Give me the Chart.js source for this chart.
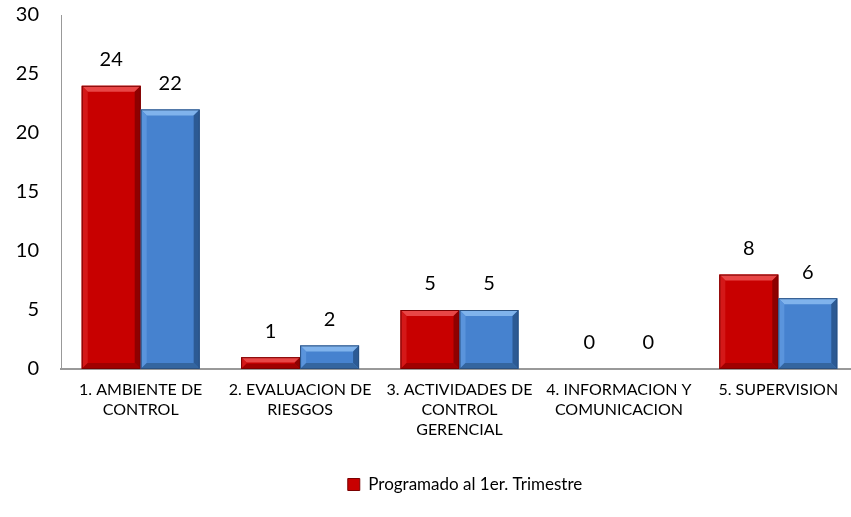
<!DOCTYPE html>
<html>
<head>
<meta charset="utf-8">
<script src="https://cdn.jsdelivr.net/npm/chart.js@4/dist/chart.umd.min.js"></script>
<style>
html,body{margin:0;padding:0;background:#fff;overflow:hidden;}
#wrap{width:930px;height:517px;position:relative;}
</style>
</head>
<body>
<div id="wrap"><canvas id="c"></canvas></div>
<script>
const categories = [
  ["1. AMBIENTE DE","CONTROL"],
  ["2. EVALUACION DE","RIESGOS"],
  ["3. ACTIVIDADES DE","CONTROL","GERENCIAL"],
  ["4. INFORMACION Y","COMUNICACION"],
  ["5. SUPERVISION"]
];
const programado = [24, 1, 5, 0, 8];
const ejecutado = [22, 2, 5, 0, 6];
const seriesNames = ["Programado al 1er. Trimestre", "Ejecutado al 1er. Trimestre"];
const yTicks = [0, 5, 10, 15, 20, 25, 30];

const FONT = "Lato, 'Open Sans', sans-serif";

const palettes = [
  {main:'#C80000', top:'#E84646', left:'#D41818', right:'#8E0000', bottom:'#A00000', edge:'#7a0000'},
  {main:'#4682CF', top:'#80B3EC', left:'#5A94DC', right:'#2C5A94', bottom:'#34659F', edge:'#2a5080'}
];

const bevelPlugin = {
  id:'bevel',
  afterDatasetsDraw(chart){
    const ctx = chart.ctx;
    chart.data.datasets.forEach((ds, di) => {
      const meta = chart.getDatasetMeta(di);
      const p = palettes[di];
      meta.data.forEach(bar => {
        const l = bar.x - bar.width/2, r = bar.x + bar.width/2;
        const t = Math.min(bar.y, bar.base), b = Math.max(bar.y, bar.base);
        const h = b - t;
        if (h < 0.5) return;
        const bv = Math.min(6, h/2.2);
        ctx.save();
        ctx.beginPath();
        ctx.moveTo(l,t);ctx.lineTo(r,t);ctx.lineTo(r-bv,t+bv);ctx.lineTo(l+bv,t+bv);ctx.closePath();
        ctx.fillStyle=p.top;ctx.fill();
        ctx.beginPath();
        ctx.moveTo(l,t);ctx.lineTo(l+bv,t+bv);ctx.lineTo(l+bv,b-bv);ctx.lineTo(l,b);ctx.closePath();
        ctx.fillStyle=p.left;ctx.fill();
        ctx.beginPath();
        ctx.moveTo(r,t);ctx.lineTo(r-bv,t+bv);ctx.lineTo(r-bv,b-bv);ctx.lineTo(r,b);ctx.closePath();
        ctx.fillStyle=p.right;ctx.fill();
        ctx.beginPath();
        ctx.moveTo(l,b);ctx.lineTo(l+bv,b-bv);ctx.lineTo(r-bv,b-bv);ctx.lineTo(r,b);ctx.closePath();
        ctx.fillStyle=p.bottom;ctx.fill();
        ctx.strokeStyle=p.edge;ctx.lineWidth=1;
        ctx.strokeRect(l+0.5,t+0.5,r-l-1,h-1);
        ctx.restore();
      });
    });
  }
};

const labelPlugin = {
  id:'vlabels',
  afterDatasetsDraw(chart){
    const ctx = chart.ctx;
    ctx.save();
    ctx.font = "20px " + FONT;
    ctx.fillStyle = '#000';
    ctx.textAlign = 'center';
    ctx.textBaseline = 'middle';
    chart.data.datasets.forEach((ds, di) => {
      const meta = chart.getDatasetMeta(di);
      meta.data.forEach((bar, i) => {
        ctx.fillText(String(ds.data[i]), bar.x, bar.y - 26);
      });
    });
    ctx.restore();
  }
};

new Chart(document.getElementById('c'), {
  type:'bar',
  data:{
    labels: categories,
    datasets:[
      {label: seriesNames[0], data: programado, backgroundColor: palettes[0].main, borderWidth:0},
      {label: seriesNames[1], data: ejecutado, backgroundColor: palettes[1].main, borderWidth:0}
    ]
  },
  options:{
    responsive:true,
    maintainAspectRatio:false,
    animation:false,
    layout:{padding:{left:0,right:0,top:15,bottom:14}},
    datasets:{bar:{categoryPercentage:0.74, barPercentage:1.0}},
    plugins:{
      tooltip:{enabled:false},
      legend:{
        position:'bottom',
        labels:{
          filter:(item)=>item.datasetIndex===0,
          font:{family:FONT,size:17},
          color:'#000',
          boxWidth:12, boxHeight:12,
          padding:10,
          generateLabels:(chart)=>chart.data.datasets.map((ds,i)=>({
            text:ds.label, fillStyle:palettes[i].main, strokeStyle:palettes[i].edge,
            lineWidth:1, datasetIndex:i, hidden:false
          }))
        }
      }
    },
    scales:{
      x:{
        grid:{display:false, drawTicks:false},
        border:{display:true,color:'#999',width:2},
        afterFit:(s)=>{s.height = s.height + 15;},
        ticks:{font:{family:FONT,size:16,lineHeight:'20px'},color:'#000',padding:11,maxRotation:0,autoSkip:false}
      },
      y:{
        min:0,max:30,
        afterFit:(s)=>{s.width=61; s.paddingTop=0; s.paddingBottom=0;},
        afterBuildTicks:(s)=>{s.ticks = yTicks.map(v=>({value:v}));},
        grid:{display:false, drawTicks:false},
        border:{display:true,color:'#999',width:1},
        ticks:{font:{family:FONT,size:20},color:'#000',padding:22}
      },
      yr:{
        position:'right',
        display:true,
        afterFit:(s)=>{s.width=72; s.paddingTop=0; s.paddingBottom=0;},
        grid:{display:false, drawTicks:false},
        border:{display:false},
        ticks:{display:false}
      }
    }
  },
  plugins:[bevelPlugin, labelPlugin]
});
</script>
</body>
</html>
